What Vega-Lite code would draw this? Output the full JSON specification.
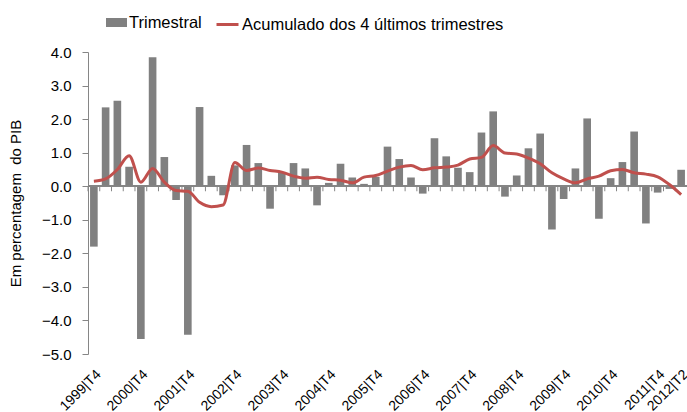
{
  "$schema": "https://vega.github.io/schema/vega-lite/v6.json",
  "width": 599,
  "height": 302,
  "autosize": "none",
  "padding": {"left": 88, "top": 52, "right": 0, "bottom": 58},
  "background": "white",
  "config": {
    "view": {"stroke": null},
    "font": "Liberation Sans",
    "axis": {"grid": false, "domainColor": "#868686", "tickColor": "#868686", "labelColor": "#000000", "titleColor": "#000000"}
  },
  "data": {"values": [
    {"q": "1999|T4", "Trimestral": -1.80, "Acumulado dos 4 últimos trimestres": 0.15},
    {"q": "2000|T1", "Trimestral": 2.35, "Acumulado dos 4 últimos trimestres": 0.22},
    {"q": "2000|T2", "Trimestral": 2.55, "Acumulado dos 4 últimos trimestres": 0.50},
    {"q": "2000|T3", "Trimestral": 0.58, "Acumulado dos 4 últimos trimestres": 0.91},
    {"q": "2000|T4", "Trimestral": -4.55, "Acumulado dos 4 últimos trimestres": 0.12},
    {"q": "2001|T1", "Trimestral": 3.84, "Acumulado dos 4 últimos trimestres": 0.53},
    {"q": "2001|T2", "Trimestral": 0.87, "Acumulado dos 4 últimos trimestres": 0.12},
    {"q": "2001|T3", "Trimestral": -0.41, "Acumulado dos 4 últimos trimestres": -0.13},
    {"q": "2001|T4", "Trimestral": -4.43, "Acumulado dos 4 últimos trimestres": -0.15},
    {"q": "2002|T1", "Trimestral": 2.36, "Acumulado dos 4 últimos trimestres": -0.48},
    {"q": "2002|T2", "Trimestral": 0.31, "Acumulado dos 4 últimos trimestres": -0.61},
    {"q": "2002|T3", "Trimestral": -0.27, "Acumulado dos 4 últimos trimestres": -0.56},
    {"q": "2002|T4", "Trimestral": 0.62, "Acumulado dos 4 últimos trimestres": 0.71},
    {"q": "2003|T1", "Trimestral": 1.23, "Acumulado dos 4 últimos trimestres": 0.47},
    {"q": "2003|T2", "Trimestral": 0.69, "Acumulado dos 4 últimos trimestres": 0.54},
    {"q": "2003|T3", "Trimestral": -0.67, "Acumulado dos 4 últimos trimestres": 0.47},
    {"q": "2003|T4", "Trimestral": 0.40, "Acumulado dos 4 últimos trimestres": 0.42},
    {"q": "2004|T1", "Trimestral": 0.69, "Acumulado dos 4 últimos trimestres": 0.30},
    {"q": "2004|T2", "Trimestral": 0.53, "Acumulado dos 4 últimos trimestres": 0.24},
    {"q": "2004|T3", "Trimestral": -0.57, "Acumulado dos 4 últimos trimestres": 0.27},
    {"q": "2004|T4", "Trimestral": 0.10, "Acumulado dos 4 últimos trimestres": 0.20},
    {"q": "2005|T1", "Trimestral": 0.67, "Acumulado dos 4 últimos trimestres": 0.18},
    {"q": "2005|T2", "Trimestral": 0.26, "Acumulado dos 4 últimos trimestres": 0.10},
    {"q": "2005|T3", "Trimestral": 0.07, "Acumulado dos 4 últimos trimestres": 0.27},
    {"q": "2005|T4", "Trimestral": 0.28, "Acumulado dos 4 últimos trimestres": 0.32},
    {"q": "2006|T1", "Trimestral": 1.18, "Acumulado dos 4 últimos trimestres": 0.45},
    {"q": "2006|T2", "Trimestral": 0.81, "Acumulado dos 4 últimos trimestres": 0.57},
    {"q": "2006|T3", "Trimestral": 0.26, "Acumulado dos 4 últimos trimestres": 0.62},
    {"q": "2006|T4", "Trimestral": -0.22, "Acumulado dos 4 últimos trimestres": 0.49},
    {"q": "2007|T1", "Trimestral": 1.43, "Acumulado dos 4 últimos trimestres": 0.55},
    {"q": "2007|T2", "Trimestral": 0.89, "Acumulado dos 4 últimos trimestres": 0.57},
    {"q": "2007|T3", "Trimestral": 0.55, "Acumulado dos 4 últimos trimestres": 0.63},
    {"q": "2007|T4", "Trimestral": 0.42, "Acumulado dos 4 últimos trimestres": 0.81},
    {"q": "2008|T1", "Trimestral": 1.60, "Acumulado dos 4 últimos trimestres": 0.86},
    {"q": "2008|T2", "Trimestral": 2.23, "Acumulado dos 4 últimos trimestres": 1.21},
    {"q": "2008|T3", "Trimestral": -0.31, "Acumulado dos 4 últimos trimestres": 0.99},
    {"q": "2008|T4", "Trimestral": 0.32, "Acumulado dos 4 últimos trimestres": 0.96},
    {"q": "2009|T1", "Trimestral": 1.13, "Acumulado dos 4 últimos trimestres": 0.84},
    {"q": "2009|T2", "Trimestral": 1.57, "Acumulado dos 4 últimos trimestres": 0.67},
    {"q": "2009|T3", "Trimestral": -1.29, "Acumulado dos 4 últimos trimestres": 0.40},
    {"q": "2009|T4", "Trimestral": -0.38, "Acumulado dos 4 últimos trimestres": 0.22},
    {"q": "2010|T1", "Trimestral": 0.53, "Acumulado dos 4 últimos trimestres": 0.10},
    {"q": "2010|T2", "Trimestral": 2.02, "Acumulado dos 4 últimos trimestres": 0.22},
    {"q": "2010|T3", "Trimestral": -0.97, "Acumulado dos 4 últimos trimestres": 0.30},
    {"q": "2010|T4", "Trimestral": 0.24, "Acumulado dos 4 últimos trimestres": 0.46},
    {"q": "2011|T1", "Trimestral": 0.72, "Acumulado dos 4 últimos trimestres": 0.50},
    {"q": "2011|T2", "Trimestral": 1.63, "Acumulado dos 4 últimos trimestres": 0.40},
    {"q": "2011|T3", "Trimestral": -1.11, "Acumulado dos 4 últimos trimestres": 0.36},
    {"q": "2011|T4", "Trimestral": -0.19, "Acumulado dos 4 últimos trimestres": 0.28},
    {"q": "2012|T1", "Trimestral": -0.08, "Acumulado dos 4 últimos trimestres": 0.05},
    {"q": "2012|T2", "Trimestral": 0.49, "Acumulado dos 4 últimos trimestres": -0.25}
  ]},
  "transform": [
    {"fold": ["Trimestral", "Acumulado dos 4 últimos trimestres"], "as": ["serie", "valor"]}
  ],
  "resolve": {"scale": {"x": "independent"}},
  "layer": [
    {
      "transform": [{"filter": "datum.serie == 'Trimestral'"}],
      "mark": {"type": "bar"},
      "encoding": {
        "x": {
          "field": "q", "type": "ordinal", "sort": null,
          "scale": {"paddingInner": 0.35, "paddingOuter": 0.175},
          "axis": {
            "title": null, "domain": false, "ticks": false,
            "labelAngle": -45, "labelAlign": "right", "labelPadding": 13,
            "labelFontSize": 14, "labelOverlap": false,
            "labelExpr": "indexof(datum.value, 'T4') >= 0 || datum.value == '2012|T2' ? datum.value : ''"
          }
        },
        "y": {
          "field": "valor", "type": "quantitative",
          "scale": {"domain": [-5, 4], "nice": false, "zero": false},
          "axis": {
            "values": [-5, -4, -3, -2, -1, 0, 1, 2, 3, 4], "tickCount": 10,
            "format": ".1f", "labelOverlap": false,
            "labelFontSize": 15, "labelPadding": 11, "tickSize": 6,
            "title": "Em percentagem\u00a0 do PIB", "titleFontSize": 15, "titleFontWeight": "normal",
            "titlePadding": 18
          }
        },
        "fill": {
          "field": "serie", "type": "nominal",
          "scale": {"range": ["#808080"]},
          "legend": {
            "orient": "none", "legendX": 18, "legendY": -40, "title": null, "padding": 0,
            "symbolType": "M-1,-0.43H1V0.43H-1Z", "symbolSize": 441, "symbolStrokeWidth": 0,
            "labelFontSize": 16.5, "labelColor": "#000000", "labelOffset": 2, "labelLimit": 400
          }
        }
      }
    },
    {
      "transform": [{"filter": "datum.serie == 'Trimestral'"}],
      "mark": {"type": "rule", "color": "#868686", "strokeWidth": 1},
      "encoding": {
        "y": {"datum": 0, "type": "quantitative"}
      }
    },
    {
      "transform": [{"filter": "datum.serie == 'Trimestral'"}],
      "mark": {"type": "rule", "color": "#868686", "strokeWidth": 1},
      "encoding": {
        "x": {
          "field": "q", "type": "ordinal", "sort": null, "bandPosition": 0,
          "scale": {"type": "band", "paddingInner": 0, "paddingOuter": 0},
          "axis": null
        },
        "y": {"datum": 0, "type": "quantitative"},
        "y2": {"datum": -0.15}
      }
    },
    {
      "transform": [{"filter": "datum.serie != 'Trimestral'"}],
      "mark": {"type": "line", "strokeWidth": 3, "interpolate": "monotone"},
      "encoding": {
        "x": {
          "field": "q", "type": "ordinal", "sort": null,
          "scale": {"type": "band", "paddingInner": 0.35, "paddingOuter": 0.175},
          "axis": null
        },
        "y": {"field": "valor", "type": "quantitative"},
        "stroke": {
          "field": "serie", "type": "nominal",
          "scale": {"range": ["#C0504D"]},
          "legend": {
            "orient": "none", "legendX": 127, "legendY": -40, "title": null, "padding": 0,
            "symbolType": "stroke", "symbolSize": 484, "symbolStrokeWidth": 3,
            "labelFontSize": 16.5, "labelColor": "#000000", "labelOffset": 2, "labelLimit": 400
          }
        }
      }
    }
  ]
}
